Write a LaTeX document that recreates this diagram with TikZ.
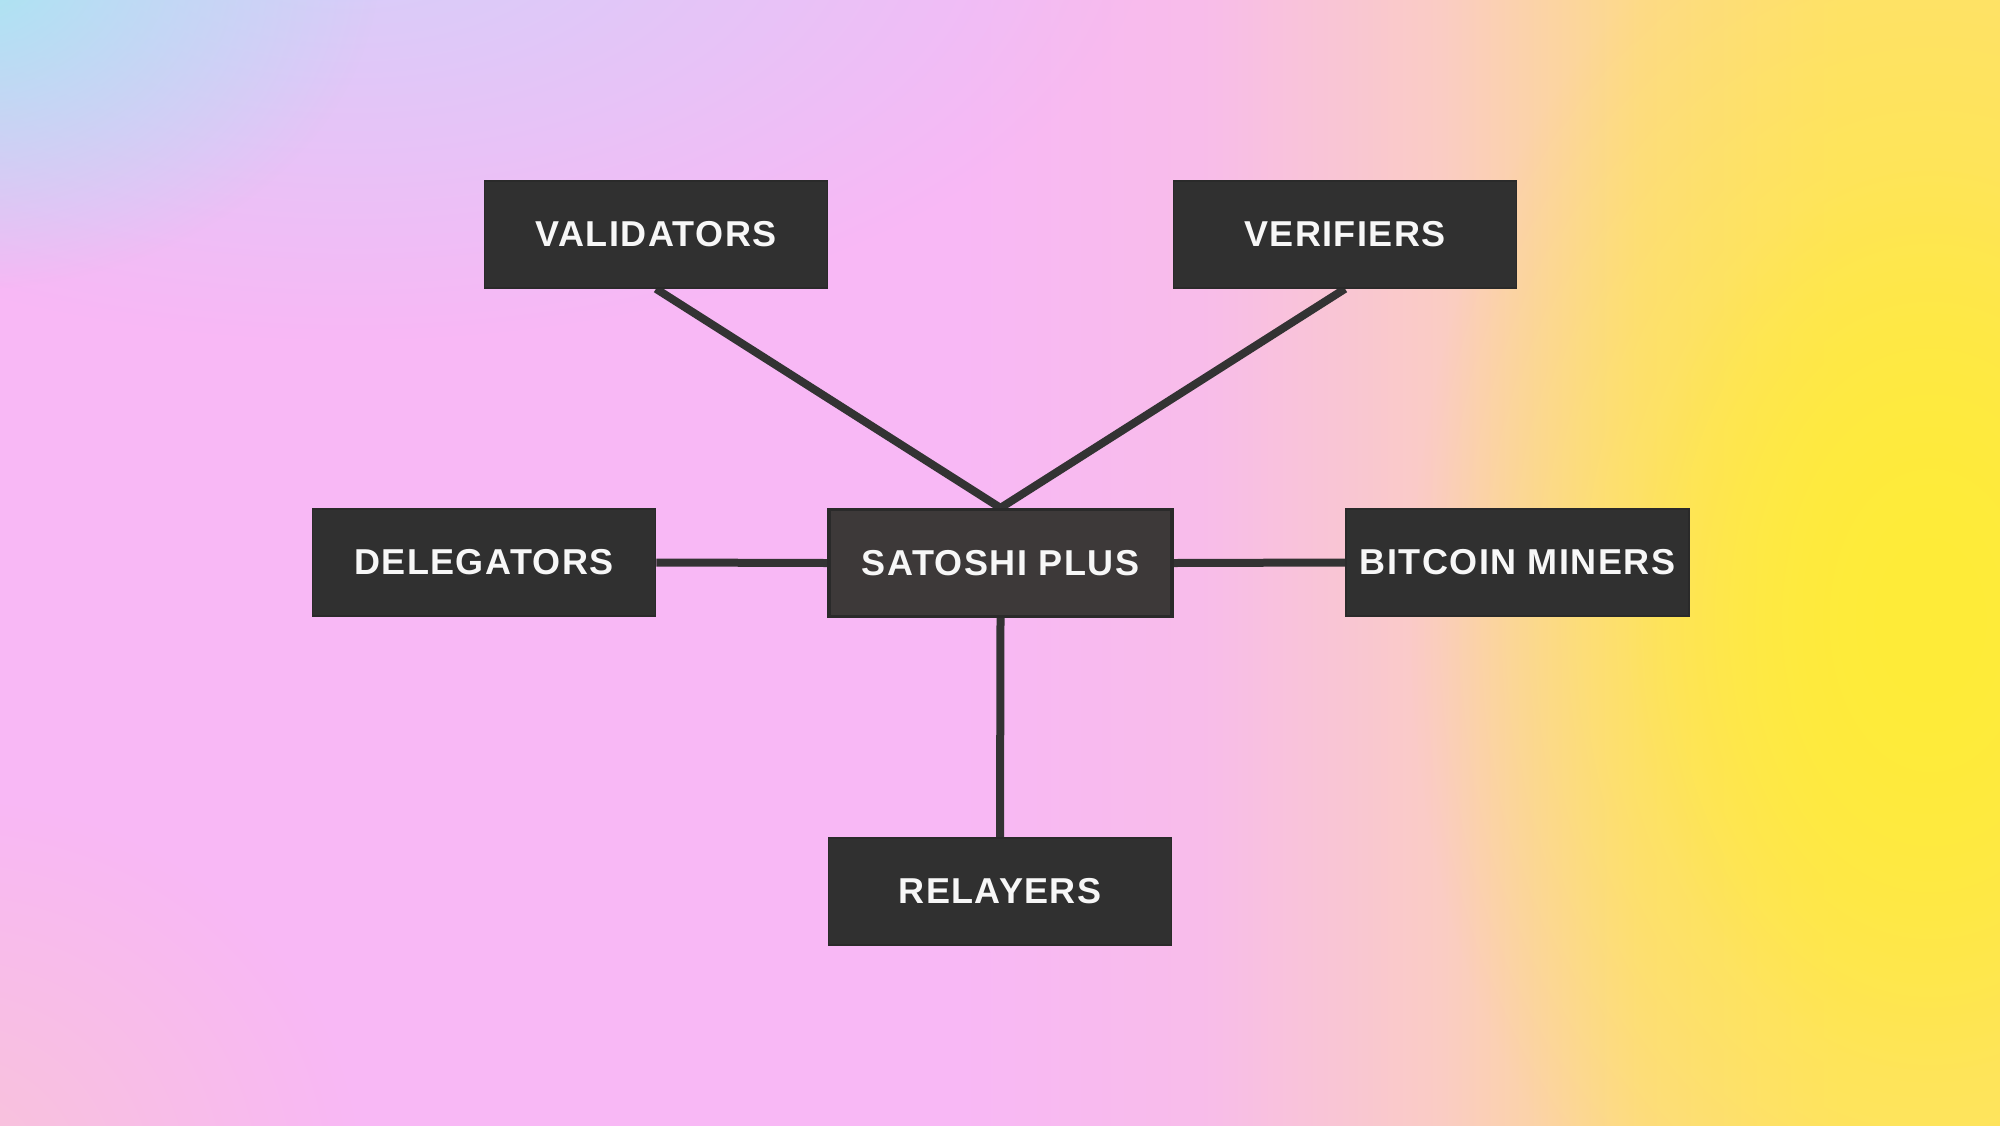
\documentclass[tikz,border=0pt]{standalone}
\usepackage{fontspec}
\setmainfont{Liberation Sans}
\newfontfamily\boxfont[LetterSpace=4]{Liberation Sans Bold}
\usetikzlibrary{fadings}
\definecolor{bgpink}{HTML}{F8B8F5}
\definecolor{bgpink2}{HTML}{F8BCEA}
\definecolor{bgpeach}{HTML}{FACCC4}
\definecolor{bgorange}{HTML}{FDDA88}
\definecolor{bgyel}{HTML}{FEE070}
\definecolor{bgyellow}{HTML}{FFEC38}
\definecolor{bgcyan}{HTML}{A6E8F2}
\definecolor{bglav}{HTML}{D4D0FA}
\definecolor{bgrose}{HTML}{F8C4D8}
\definecolor{boxgray}{HTML}{303030}
\definecolor{boxline}{HTML}{2A2A2A}
\definecolor{satfill}{HTML}{3D3939}
\definecolor{linegray}{HTML}{333333}
\definecolor{txt}{HTML}{F7F7F7}
\pgfdeclarehorizontalshading{bgshade}{100bp}{color(0bp)=(bgpink); color(25bp)=(bgpink); color(49bp)=(bgpink); color(55bp)=(bgpink2); color(61bp)=(bgpeach); color(66bp)=(bgorange); color(71bp)=(bgyel); color(75bp)=(bgyel); color(100bp)=(bgyel)}
\tikzfading[name=radfade, inner color=transparent!0, outer color=transparent!100]
\pgfdeclarelayer{bg}
\pgfdeclarelayer{edges}
\pgfsetlayers{bg,edges,main}
\tikzset{
  box/.style={rectangle, fill=boxgray, draw=boxline, line width=0.8pt,
    minimum width=171.5pt, minimum height=53.5pt, inner sep=0pt,
    text=txt, font=\boxfont\fontsize{18}{21}\selectfont},
  satbox/.style={box, fill=satfill, draw=boxline, line width=1.6pt},
  link/.style={draw=linegray, line width=4pt}
}
\begin{document}
\begin{tikzpicture}[x=0.5pt,y=-0.5pt]
\useasboundingbox (0,0) rectangle (2000,1125);
\node[box] (val) at (656,234.5) {VALIDATORS};
\node[box] (ver) at (1345,234.5) {VERIFIERS};
\node[box] (del) at (484,562.5) {DELEGATORS};
\node[satbox] (sat) at (1000.5,563) {SATOSHI PLUS};
\node[box] (bit) at (1517.5,562.5) {BITCOIN MINERS};
\node[box] (rel) at (1000,891.5) {RELAYERS};
\begin{pgfonlayer}{bg}
  \begin{scope}
    \clip (0,0) rectangle (2000,1125);
    \shade[shading=bgshade] (0,0) rectangle (2000,1125);
    \fill[bgyellow, path fading=radfade] (1930,620) ellipse [x radius=520, y radius=760];
    \fill[bgyellow, path fading=radfade] (1930,620) ellipse [x radius=300, y radius=450];
    \fill[bglav, path fading=radfade] (350,-80) ellipse [x radius=800, y radius=420];
    \fill[bgcyan, path fading=radfade] (-40,-40) ellipse [x radius=420, y radius=330];
    \fill[bgrose, path fading=radfade] (-60,1180) ellipse [x radius=420, y radius=380];
  \end{scope}
\end{pgfonlayer}
\begin{pgfonlayer}{edges}
  \draw[link] (val.south) -- (sat.north);
  \draw[link] (ver.south) -- (sat.north);
  \draw[link] (del.east) -- (sat.west);
  \draw[link] (sat.east) -- (bit.west);
  \draw[link] (sat.south) -- (rel.north);
\end{pgfonlayer}
\end{tikzpicture}
\end{document}
